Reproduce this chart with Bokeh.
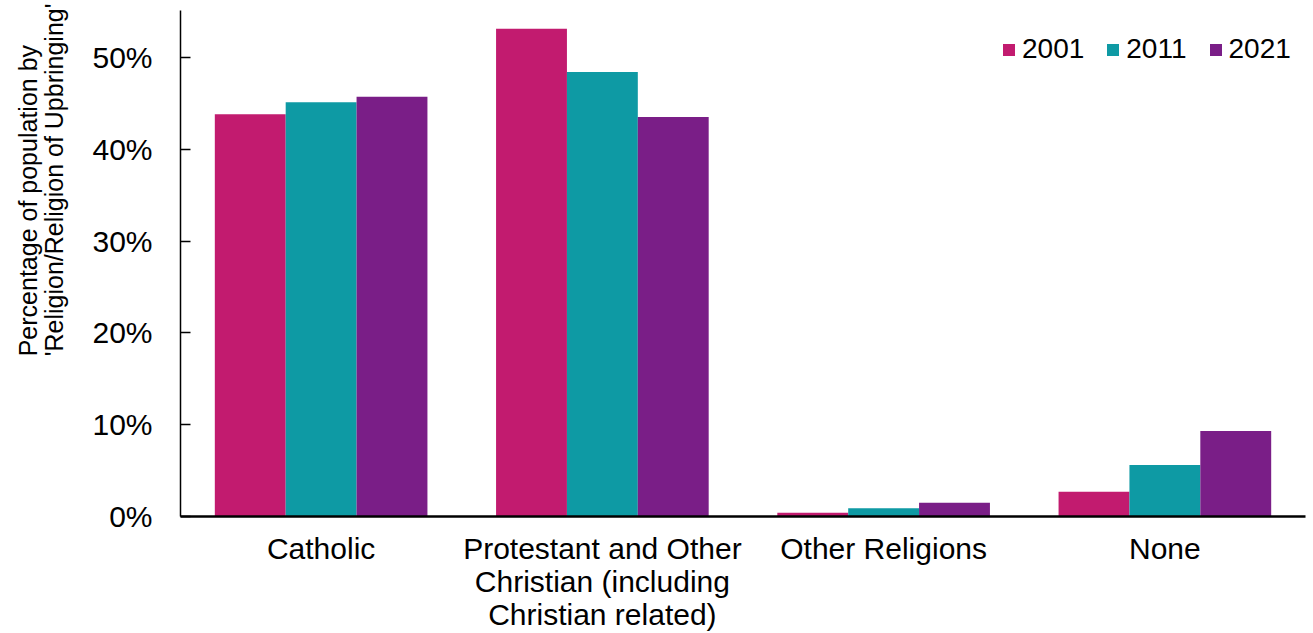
from bokeh.plotting import figure
from bokeh.models import ColumnDataSource, FactorRange, Range1d, FixedTicker, PrintfTickFormatter, Legend, LegendItem, Title
from bokeh.transform import dodge
from bokeh.embed import file_html
from bokeh.resources import INLINE

categories = ["Catholic", "Protestant and Other\nChristian (including\nChristian related)", "Other Religions", "None"]
years = ["2001", "2011", "2021"]
v2001 = [43.8, 53.1, 0.4, 2.7]
v2011 = [45.1, 48.4, 0.9, 5.6]
v2021 = [45.7, 43.5, 1.5, 9.3]
colors = ["#C21B6F", "#0E9AA4", "#7A1E87"]
y_ticks = [0, 10, 20, 30, 40, 50]

src = ColumnDataSource(dict(cat=categories, y2001=v2001, y2011=v2011, y2021=v2021))

FONT = "Liberation Sans"

p = figure(x_range=FactorRange(*categories, range_padding=0), y_range=Range1d(0, 55.1),
           width=1308, height=633, output_backend="svg", toolbar_location=None,
           min_border_left=180, min_border_right=3, min_border_top=10, min_border_bottom=116)
p.outline_line_color = None
p.grid.grid_line_color = None
p.background_fill_color = "white"

bw = 0.252
renderers = []
for i, (yr, col) in enumerate(zip(["y2001", "y2011", "y2021"], colors)):
    r = p.vbar(x=dodge("cat", (i - 1) * bw, range=p.x_range), top=yr, width=bw, bottom=0,
               source=src, fill_color=col, line_color=None)
    renderers.append(r)

legend = Legend(items=[LegendItem(label=y, renderers=[r]) for y, r in zip(years, renderers)],
                orientation="horizontal", location=(821, 451),
                label_text_font=FONT, label_text_font_size="28px", label_text_color="black",
                glyph_width=15, glyph_height=15, spacing=21, label_standoff=6,
                border_line_color=None, background_fill_alpha=0, margin=0, padding=0)
p.add_layout(legend)

ya = p.yaxis[0]
ya.ticker = FixedTicker(ticks=y_ticks)
ya.formatter = PrintfTickFormatter(format="%d%%")
ya.major_tick_in = 10
ya.major_tick_out = 0
ya.minor_tick_line_color = None
ya.axis_line_width = 1.5
ya.axis_line_color = "black"
ya.major_tick_line_color = "black"
ya.major_tick_line_width = 1.5
ya.major_label_text_font = FONT
ya.major_label_text_font_size = "30px"
ya.major_label_text_color = "black"
ya.major_label_standoff = 28
ya.axis_label = " "
ya.axis_label_text_font_size = "1px"
ya.axis_label_standoff = 12

xa = p.xaxis[0]
xa.major_tick_line_color = None
xa.minor_tick_line_color = None
xa.axis_line_width = 2.5
xa.axis_line_color = "black"
xa.major_label_text_font = FONT
xa.major_label_text_font_size = "30px"
xa.major_label_text_color = "black"
xa.major_label_standoff = 9
xa.major_label_text_line_height = 1.0

t1 = Title(text="Percentage of population by\n'Religion/Religion of Upbringing'", align="right", offset=-7,
           text_line_height=0.95,
           text_font=FONT, text_font_size="25px", text_font_style="normal", text_color="black")
p.add_layout(t1, "left")

open("out.html", "w").write(file_html(p, INLINE))
